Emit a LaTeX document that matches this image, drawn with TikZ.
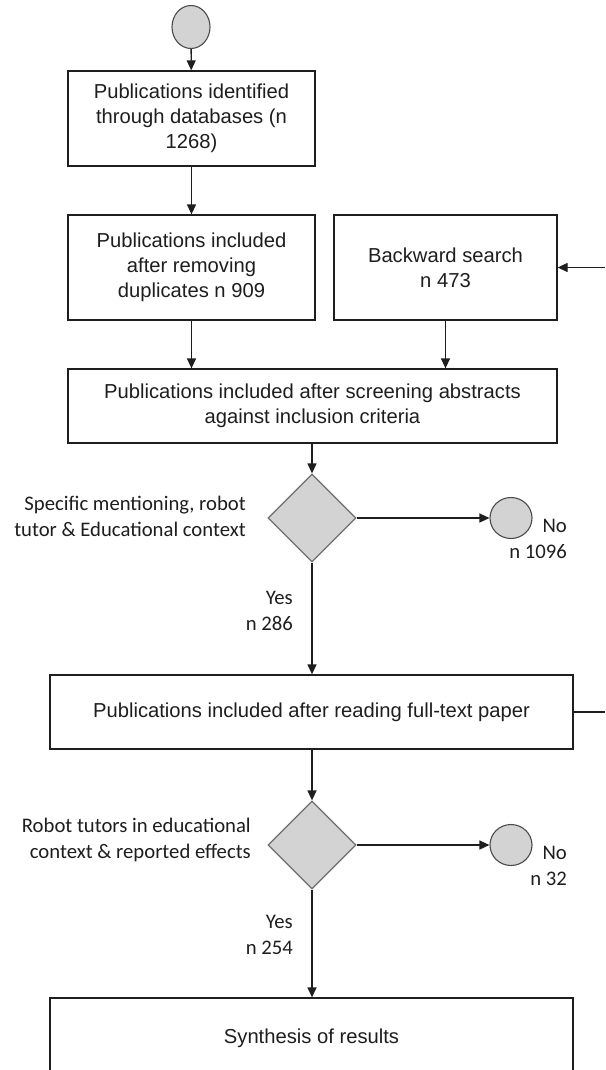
\documentclass[tikz,border=0pt]{standalone}
\usepackage{fontspec}
\setmainfont{Liberation Sans}
\newfontfamily\carlito{Carlito}
\usetikzlibrary{shapes.geometric,arrows.meta}
\definecolor{linec}{HTML}{1E1E1E}
\definecolor{grayfill}{HTML}{D3D3D3}
\definecolor{diaborder}{HTML}{6E6E6E}
\begin{document}
\begin{tikzpicture}[x=1pt,y=-1pt,
  every node/.style={font=\fontsize{20.2}{25}\selectfont, text=linec},
  box/.style={draw=linec, line width=1.3pt, rectangle, inner sep=0pt, align=center},
  dia/.style={draw=diaborder, fill=grayfill, line width=1.3pt, diamond, minimum width=88pt, minimum height=88pt, inner sep=0pt},
  term/.style={draw=linec!80, fill=grayfill, line width=1.1pt, ellipse, inner sep=0pt},
  lbl/.style={font=\carlito\fontsize{20.7}{26}\selectfont, align=right, inner sep=0pt},
  conn/.style={draw=linec, line width=1.3pt, -{Triangle[length=10pt,width=9pt]}},
  plain/.style={draw=linec, line width=1.3pt}
]
\clip (0,0) rectangle (605,1070);
\fill[white] (0,0) rectangle (605,1070);

\node[term, minimum width=38pt, minimum height=43pt] (start) at (191,27) {};
\node[box, minimum width=247pt, minimum height=95pt] (ident) at (191.5,118.5)
  {Publications identified\\through databases (n\\1268)};
\node[box, minimum width=247pt, minimum height=105pt] (dup) at (191.5,267.5)
  {Publications included\\after removing\\duplicates n 909};
\node[box, minimum width=223pt, minimum height=105pt] (back) at (445.5,267.5)
  {Backward search\\n 473};
\node[box, minimum width=489pt, minimum height=74pt] (screen) at (312.5,406)
  {Publications included after screening abstracts\\against inclusion criteria};
\node[dia] (d1) at (312,518) {};
\node[term, minimum width=42pt, minimum height=41pt] (no1) at (511,518) {};
\node[box, minimum width=523pt, minimum height=74pt] (full) at (311.5,712)
  {Publications included after reading full-text paper};
\node[dia] (d2) at (312,845) {};
\node[term, minimum width=42pt, minimum height=41pt] (no2) at (511,845) {};
\node[box, minimum width=523pt, minimum height=80pt] (synth) at (311.5,1038)
  {Synthesis of results};

\node[lbl, anchor=east] (l1) at (246,516) {Specific mentioning, robot\\tutor \& Educational context};
\node[lbl, anchor=east] (y1) at (293,610.5) {Yes\\n 286};
\node[lbl, anchor=east] (n1) at (567,539) {No\\n 1096};
\node[lbl, anchor=east] (l2) at (251,840) {Robot tutors in educational\\context \& reported effects};
\node[lbl, anchor=east] (y2) at (293,934.5) {Yes\\n 254};
\node[lbl, anchor=east] (n2) at (567,865.5) {No\\n 32};

\coordinate (inR) at (605,267.5);
\coordinate (outR) at (605,712);

\draw[conn] (start) -- (ident);
\draw[conn] (ident) -- (dup);
\draw[conn] (dup.south) -- (dup.south |- screen.north);
\draw[conn] (back.south) -- (back.south |- screen.north);
\draw[conn] (inR) -- (back.east);
\draw[conn] (screen.south -| d1.north) -- (d1.north);
\draw[conn] (d1.east) -- (no1.west);
\draw[conn] (d1.south) -- (d1.south |- full.north);
\draw[plain] (full.east) -- (outR);
\draw[conn] (full.south -| d2.north) -- (d2.north);
\draw[conn] (d2.east) -- (no2.west);
\draw[conn] (d2.south) -- (d2.south |- synth.north);
\end{tikzpicture}
\end{document}
